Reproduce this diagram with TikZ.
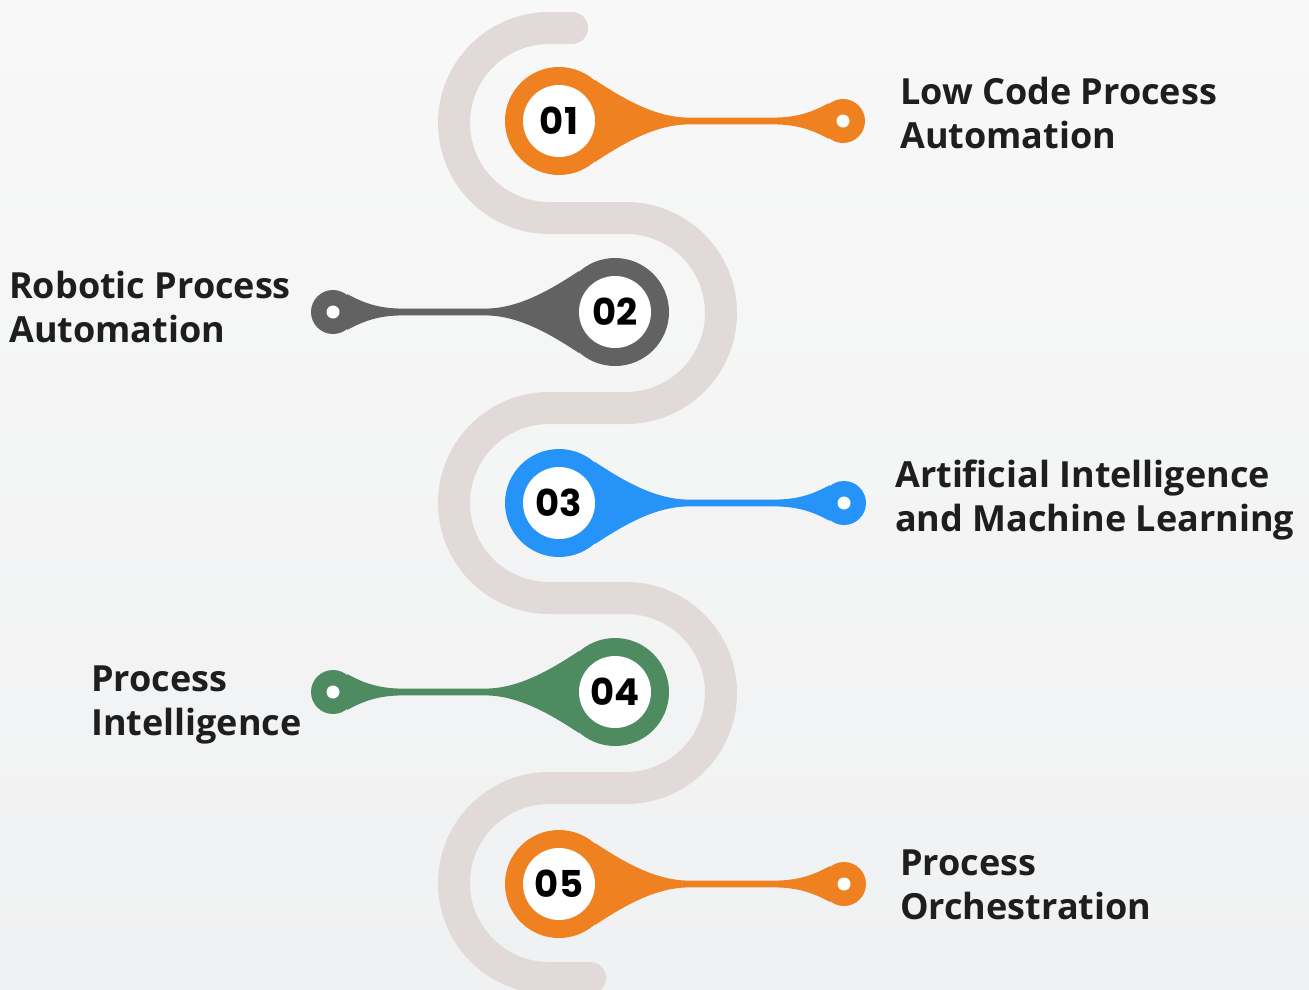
\documentclass[tikz,border=0pt]{standalone}
\usepackage{fontspec}
\setmainfont{Open Sans}
\newfontfamily\numfont{Poppins}
\definecolor{bgtop}{HTML}{F8F8F8}
\definecolor{bgbot}{HTML}{F0F1F2}
\definecolor{snake}{HTML}{E2DAD9}
\definecolor{pinorange}{HTML}{EF8120}
\definecolor{pingray}{HTML}{626262}
\definecolor{pinblue}{HTML}{2693F8}
\definecolor{pingreen}{HTML}{4F8B61}
\definecolor{textc}{HTML}{1E1E1E}
\tikzset{
  lbl/.style={anchor=base west,align=left,inner sep=0pt,text=textc,
    font=\bfseries\fontsize{36}{44}\selectfont},
  numcirc/.style={circle,fill=white,minimum size=72pt,inner sep=0pt,
    font=\numfont\bfseries\fontsize{37}{37}\selectfont,text=black},
  bigcirc/.style={circle,fill=#1,minimum size=108pt,inner sep=0pt},
  endcirc/.style={circle,fill=#1,minimum size=44pt,inner sep=0pt},
  enddot/.style={circle,fill=white,minimum size=13pt,inner sep=0pt},
  snakeline/.style={draw=snake,line width=32pt,line cap=round}
}
% #1 x, #2 y, #3 direction (1 or -1), #4 colour, #5 number, #6 name, #7 length
\newcommand\drawpin[7]{%
\begin{scope}[shift={(#1,#2)},xscale=#3]
  \node[bigcirc=#4] (#6big) at (0,0) {};
  \node[endcirc=#4] (#6end) at (#7,0) {};
  \fill[#4] (36,-41) .. controls (62,-24) and (95,-3.4) .. (130,-3.4)
    -- (#7-70,-3.4) .. controls (#7-44,-3.4) and (#7-29,-10) .. (#7-14,-18)
    -- (#7-14,18) .. controls (#7-29,10) and (#7-44,3.4) .. (#7-70,3.4)
    -- (130,3.4) .. controls (95,3.4) and (62,24) .. (36,41) -- cycle;
  \node[numcirc] (#6num) at (0,0) {#5};
  \node[enddot] (#6dot) at (#7,0) {};
\end{scope}}
\begin{document}
\begin{tikzpicture}[x=1pt,y=-1pt]
\path[use as bounding box] (0,0) rectangle (1309,989);
\clip (0,0) rectangle (1309,989);
\begin{scope}[yscale=-1]
  \shade[top color=bgtop,bottom color=bgbot] (0,0) rectangle (1309,-989);
\end{scope}
% winding path
\draw[snakeline] (572,28) -- (549,28) arc[start angle=270,end angle=90,radius=95]
  -- (626,218) arc[start angle=270,end angle=450,radius=95]
  -- (549,408) arc[start angle=270,end angle=90,radius=95]
  -- (626,598) arc[start angle=270,end angle=450,radius=95]
  -- (549,788) arc[start angle=270,end angle=90,radius=95]
  -- (590,978);
% pins
\drawpin{559}{121}{1}{pinorange}{01}{p1}{284}
\drawpin{615}{312}{-1}{pingray}{02}{p2}{282}
\drawpin{559}{503}{1}{pinblue}{03}{p3}{285}
\drawpin{615}{692}{-1}{pingreen}{04}{p4}{282}
\drawpin{559}{884}{1}{pinorange}{05}{p5}{285}
% labels (base anchor = baseline of the last line)
\node[lbl] (t1) at (900,148) {Low Code Process\\Automation};
\node[lbl] (t2) at (9,342) {Robotic Process\\Automation};
\node[lbl] (t3) at (895,531) {Artificial Intelligence\\and Machine Learning};
\node[lbl] (t4) at (91,735) {Process\\Intelligence};
\node[lbl] (t5) at (900,919) {Process\\Orchestration};
\end{tikzpicture}
\end{document}
